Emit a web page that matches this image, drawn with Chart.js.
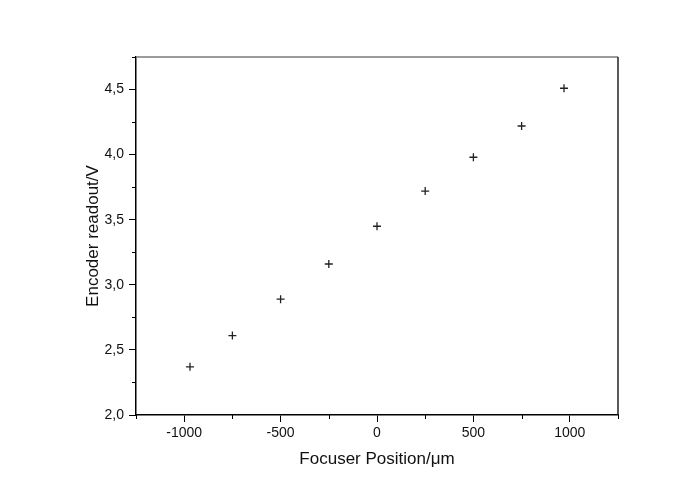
<!DOCTYPE html>
<html>
<head>
<meta charset="utf-8">
<script src="https://cdn.jsdelivr.net/npm/chart.js@4"></script>
<style>
  html, body { margin: 0; padding: 0; background: #fff; }
  #wrap { width: 700px; height: 490px; }
</style>
</head>
<body>
<div id="wrap"><canvas id="enc"></canvas></div>
<script>
// focuser position (µm) vs encoder readout (V)
const focuserPos = [-970, -750, -500, -250, 0, 250, 500, 750, 970];
const encoderV = [2.37, 2.61, 2.89, 3.16, 3.45, 3.72, 3.98, 4.22, 4.51];

const xMajorTicks = [-1000, -500, 0, 500, 1000];
const yMajorTicks = [2.0, 2.5, 3.0, 3.5, 4.0, 4.5];
const xMinorTicks = [-1250, -750, -250, 250, 750, 1250];
const yMinorTicks = [2.25, 2.75, 3.25, 3.75, 4.25, 4.75];

const FONT = "'Liberation Sans', Arial, sans-serif";

// draws the frame (top/right) and the short minor ticks, Origin style
const frameAndMinor = {
  id: "frameAndMinor",
  afterDraw(chart) {
    const { ctx, chartArea: a, scales } = chart;
    ctx.save();
    ctx.lineWidth = 1.5;
    ctx.strokeStyle = "#7a7a7a";
    ctx.beginPath();
    ctx.moveTo(a.left, a.top);
    ctx.lineTo(a.right, a.top);
    ctx.stroke();
    ctx.strokeStyle = "#222";
    ctx.beginPath();
    ctx.moveTo(a.right, a.top);
    ctx.lineTo(a.right, a.bottom);
    ctx.stroke();

    ctx.lineWidth = 1;
    ctx.strokeStyle = "#000";
    ctx.beginPath();
    xMinorTicks.forEach((v) => {
      const px = Math.round(scales.x.getPixelForValue(v)) + 0.5;
      ctx.moveTo(px, a.bottom);
      ctx.lineTo(px, a.bottom + 4);
    });
    yMinorTicks.forEach((v) => {
      const py = Math.round(scales.y.getPixelForValue(v)) + 0.5;
      ctx.moveTo(a.left, py);
      ctx.lineTo(a.left - 4, py);
    });
    ctx.stroke();
    ctx.restore();
  },
};

const axisBase = {
  grid: { drawOnChartArea: false, drawTicks: true, tickLength: 7, color: "#000", tickWidth: 1 },
  border: { display: true, color: "#000", width: 1.5 },
};

new Chart(document.getElementById("enc"), {
  type: "scatter",
  data: {
    datasets: [
      {
        data: focuserPos.map((x, i) => ({ x, y: encoderV[i] })),
        pointStyle: "cross",
        pointRadius: 4,
        borderWidth: 1.3,
        borderColor: "#222",
        backgroundColor: "#222",
        showLine: false,
      },
    ],
  },
  options: {
    responsive: true,
    maintainAspectRatio: false,
    animation: false,
    layout: { padding: { left: 0, top: 57, right: 82, bottom: 0 } },
    plugins: { legend: { display: false }, tooltip: { enabled: false } },
    scales: {
      x: {
        ...axisBase,
        type: "linear",
        min: -1250,
        max: 1250,
        afterFit: (s) => { s.height = 75; },
        afterBuildTicks: (s) => { s.ticks = xMajorTicks.map((value) => ({ value })); },
        ticks: {
          padding: 3,
          color: "#111",
          font: { family: FONT, size: 14 },
          callback: (v) => String(v),
        },
        title: {
          display: true,
          text: "Focuser Position/\u03bcm",
          color: "#111",
          font: { family: FONT, size: 17 },
          padding: { bottom: 20 },
        },
      },
      y: {
        ...axisBase,
        type: "linear",
        min: 2.0,
        max: 4.75,
        afterFit: (s) => { s.width = 136; },
        afterBuildTicks: (s) => { s.ticks = yMajorTicks.map((value) => ({ value })); },
        ticks: {
          padding: 5,
          color: "#111",
          font: { family: FONT, size: 14 },
          callback: (v) => v.toFixed(1).replace(".", ","),
        },
        title: {
          display: true,
          text: "Encoder readout/V",
          color: "#111",
          font: { family: FONT, size: 17 },
          padding: { top: 83 },
        },
      },
    },
  },
  plugins: [frameAndMinor],
});
</script>
</body>
</html>
